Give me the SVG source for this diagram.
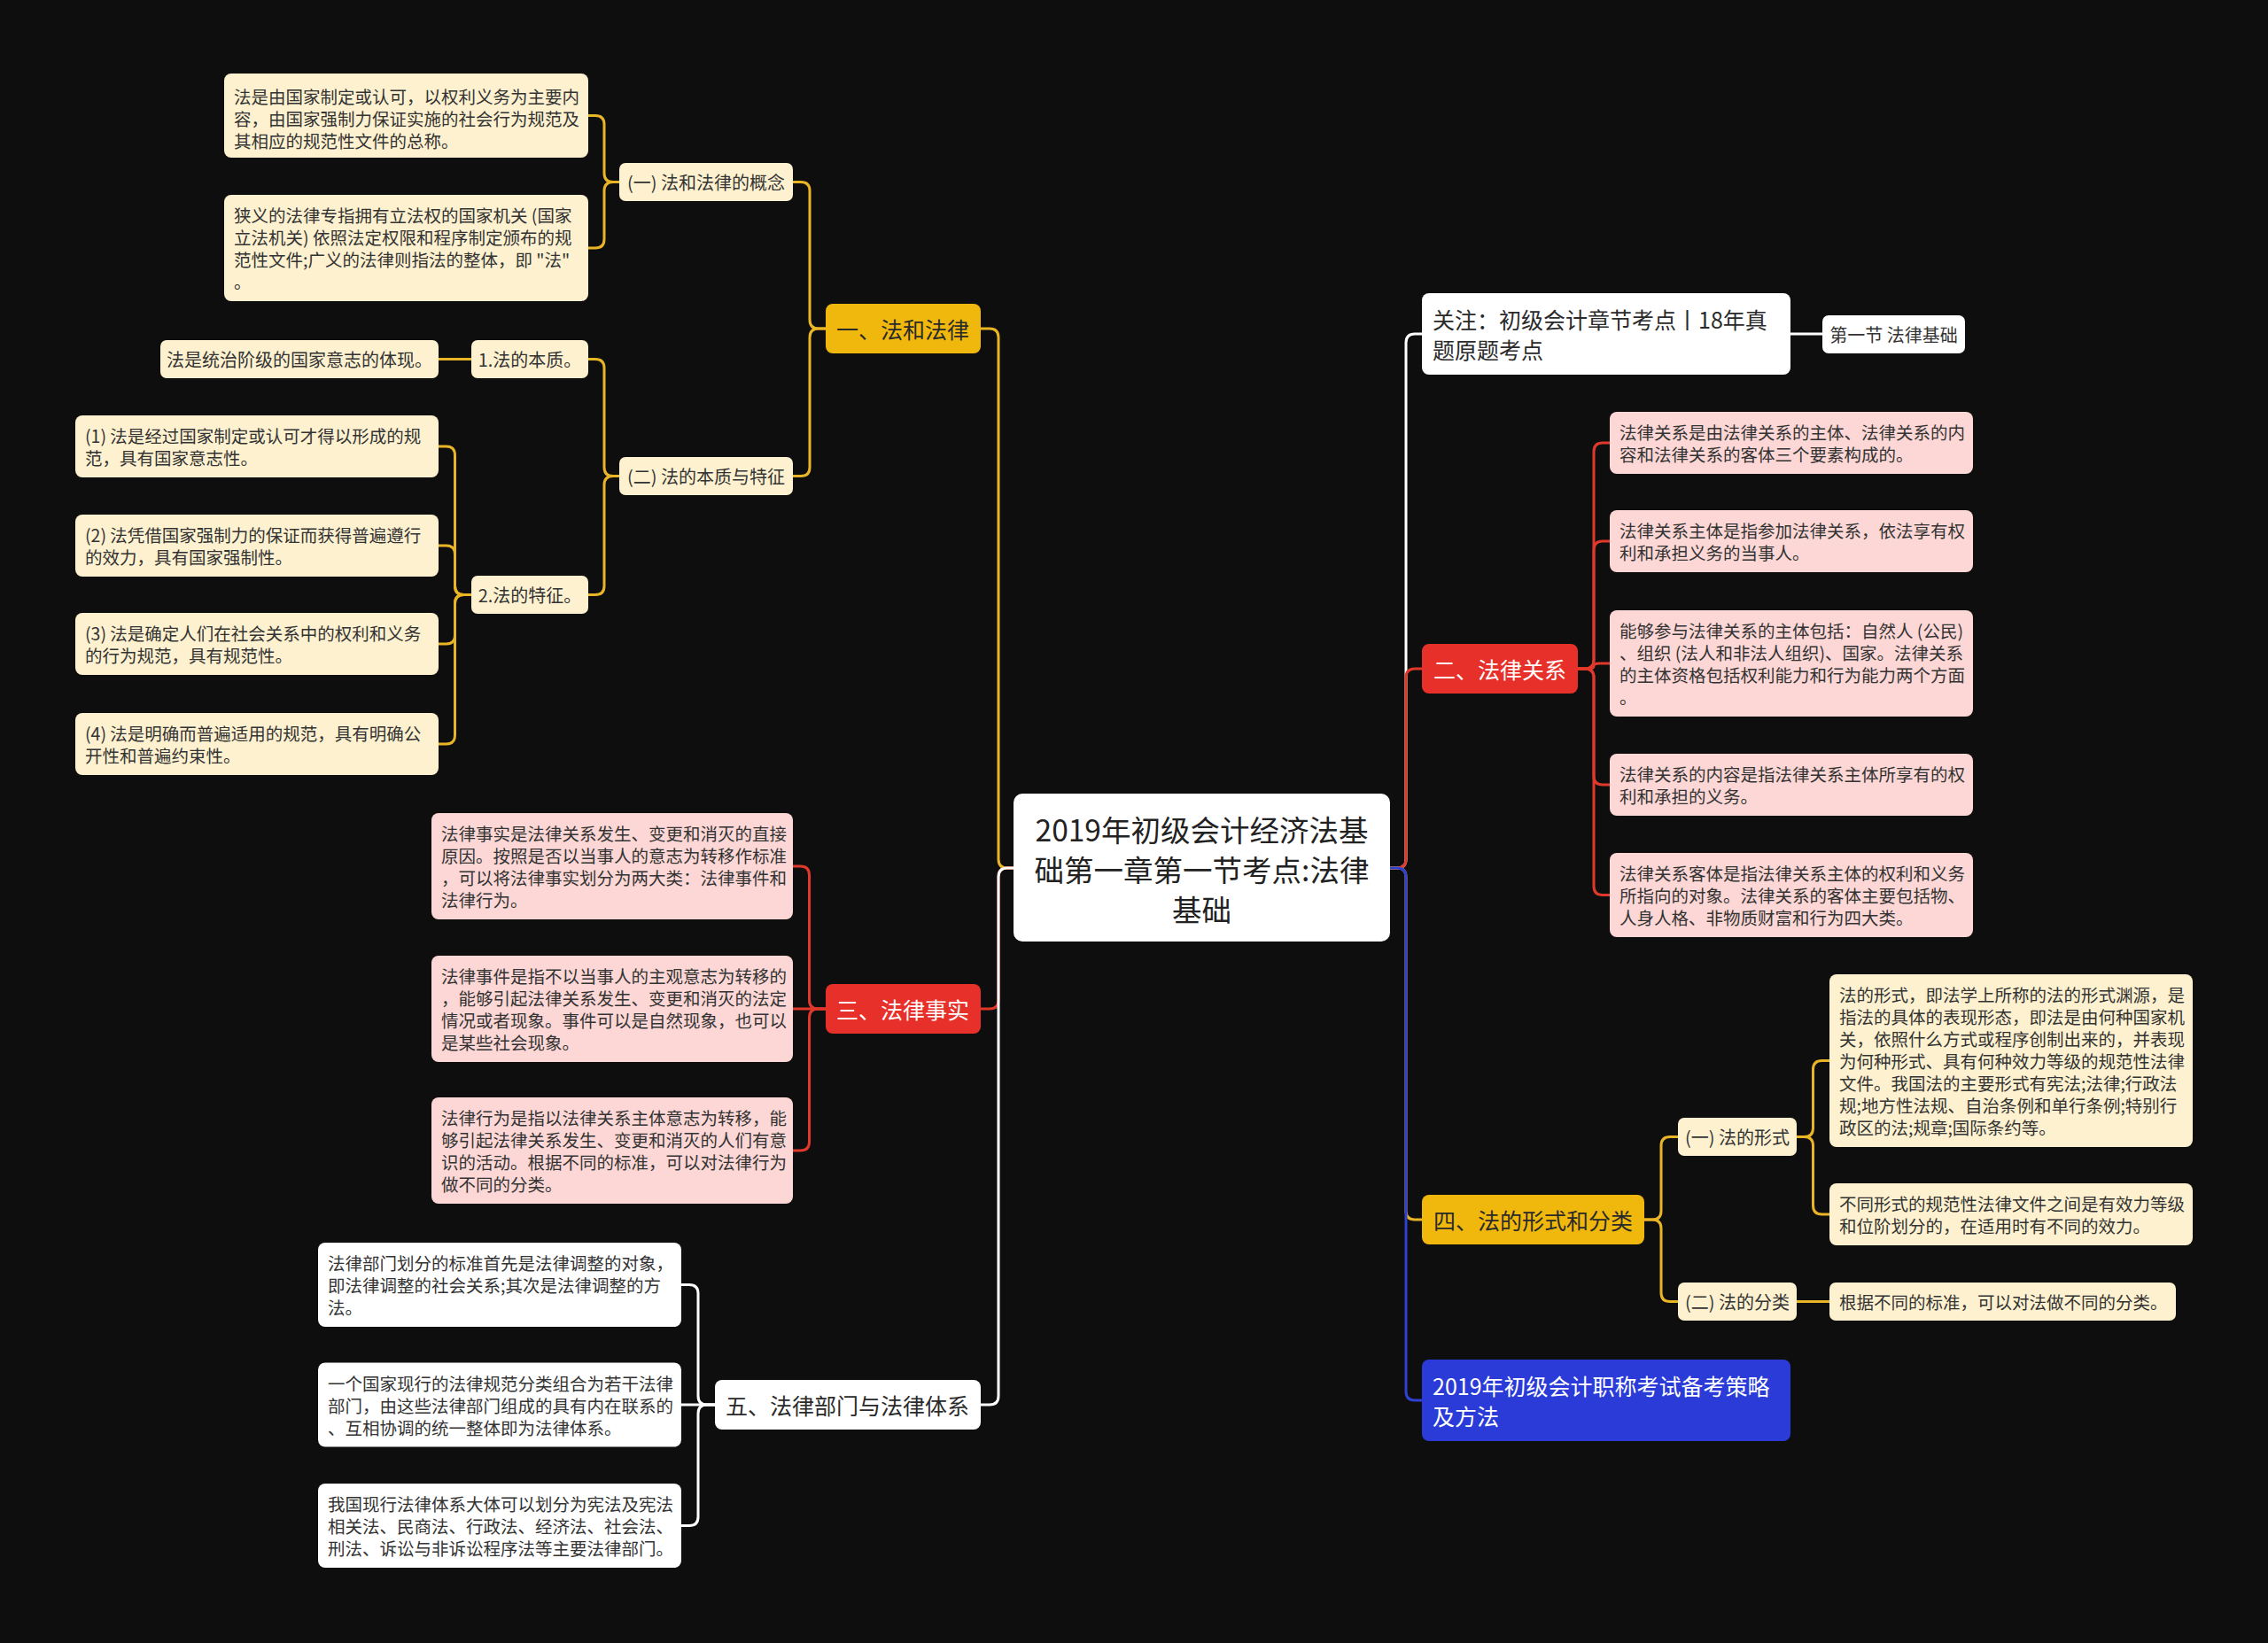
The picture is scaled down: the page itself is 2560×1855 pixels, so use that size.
<svg xmlns="http://www.w3.org/2000/svg" width="2560" height="1855" viewBox="0 0 2560 1855">
<style>
text{font-family:"Noto Sans CJK SC","Noto Sans",sans-serif;dominant-baseline:central}
.lf{font-size:19.5px;fill:#333}
.l2{font-size:20px;fill:#333;text-anchor:middle}
.l1{font-size:25px}
.ct{font-size:33.5px;fill:#222;text-anchor:middle}
.yl{fill:#FDF1CF}
.rl{fill:#FCD7D5}
.wl{fill:#FFFFFF}
.y1{fill:#F0B80D}
.r1{fill:#E8302A}
.b1{fill:#2A3BD8}
.dk{fill:#2a2a2a}
.wt{fill:#ffffff}
.cn path{fill:none;stroke-width:3;stroke-linecap:round}
.sy{stroke:#E9B425}
.sr{stroke:#E0392B}
.sw{stroke:#FFFFFF}
.sb{stroke:#3040D0}
</style>
<rect width="2560" height="1855" fill="#0e0e0e"/>
<g id="connectors" class="cn">
  <path class="sy" d="M1144 980 H1137 Q1127 980 1127 970 V381 Q1127 371 1117 371 H1107"/>
  <path class="sr" d="M1144 980 H1137 Q1127 980 1127 990 V1129 Q1127 1139 1117 1139 H1107"/>
  <path class="sw" d="M1144 980 H1137 Q1127 980 1127 990 V1576 Q1127 1586 1117 1586 H1107"/>
  <path class="sw" d="M1569 980 H1577 Q1587 980 1587 970 V387 Q1587 377 1597 377 H1605"/>
  <path class="sr" d="M1569 980 H1577 Q1587 980 1587 970 V765 Q1587 755 1597 755 H1605"/>
  <path class="sy" d="M1569 980 H1577 Q1587 980 1587 990 V1367 Q1587 1377 1597 1377 H1605"/>
  <path class="sb" d="M1569 980 H1577 Q1587 980 1587 990 V1571 Q1587 1581 1597 1581 H1605"/>
  <path class="sy" d="M932 371 H924 Q914 371 914 361 V215.5 Q914 205.5 904 205.5 H895"/>
  <path class="sy" d="M932 371 H924 Q914 371 914 381 V527.5 Q914 537.5 904 537.5 H895"/>
  <path class="sy" d="M699 205.5 H692 Q682 205.5 682 195.5 V140.5 Q682 130.5 672 130.5 H664"/>
  <path class="sy" d="M699 205.5 H692 Q682 205.5 682 215.5 V270 Q682 280 672 280 H664"/>
  <path class="sy" d="M699 537.5 H692 Q682 537.5 682 527.5 V415.5 Q682 405.5 672 405.5 H664"/>
  <path class="sy" d="M699 537.5 H692 Q682 537.5 682 547.5 V661.5 Q682 671.5 672 671.5 H664"/>
  <path class="sy" d="M532 405.5 H495"/>
  <path class="sy" d="M532 671.5 H523.5 Q513.5 671.5 513.5 661.5 V514 Q513.5 504 503.5 504 H495"/>
  <path class="sy" d="M532 671.5 H523.5 Q513.5 671.5 513.5 661.5 V626 Q513.5 616 503.5 616 H495"/>
  <path class="sy" d="M532 671.5 H523.5 Q513.5 671.5 513.5 681.5 V717 Q513.5 727 503.5 727 H495"/>
  <path class="sy" d="M532 671.5 H523.5 Q513.5 671.5 513.5 681.5 V830 Q513.5 840 503.5 840 H495"/>
  <path class="sr" d="M932 1139 H923.5 Q913.5 1139 913.5 1129 V988 Q913.5 978 903.5 978 H895"/>
  <path class="sr" d="M932 1139 H895"/>
  <path class="sr" d="M932 1139 H923.5 Q913.5 1139 913.5 1149 V1289 Q913.5 1299 903.5 1299 H895"/>
  <path class="sw" d="M807 1586 H798 Q788 1586 788 1576 V1460.5 Q788 1450.5 778 1450.5 H769"/>
  <path class="sw" d="M807 1586 H769"/>
  <path class="sw" d="M807 1586 H798 Q788 1586 788 1596 V1712.5 Q788 1722.5 778 1722.5 H769"/>
  <path class="sw" d="M2021 377 H2057"/>
  <path class="sr" d="M1781 755 H1789 Q1799 755 1799 745 V510 Q1799 500 1809 500 H1817"/>
  <path class="sr" d="M1781 755 H1789 Q1799 755 1799 745 V621 Q1799 611 1809 611 H1817"/>
  <path class="sr" d="M1781 755 H1793 Q1799 755 1799 752 Q1799 749 1805 749 H1817"/>
  <path class="sr" d="M1781 755 H1789 Q1799 755 1799 765 V876 Q1799 886 1809 886 H1817"/>
  <path class="sr" d="M1781 755 H1789 Q1799 755 1799 765 V1000.5 Q1799 1010.5 1809 1010.5 H1817"/>
  <path class="sy" d="M1856 1377 H1865 Q1875 1377 1875 1367 V1293.5 Q1875 1283.5 1885 1283.5 H1894"/>
  <path class="sy" d="M1856 1377 H1865 Q1875 1377 1875 1387 V1459.5 Q1875 1469.5 1885 1469.5 H1894"/>
  <path class="sy" d="M2028 1283.5 H2036.5 Q2046.5 1283.5 2046.5 1273.5 V1207.5 Q2046.5 1197.5 2056.5 1197.5 H2065"/>
  <path class="sy" d="M2028 1283.5 H2036.5 Q2046.5 1283.5 2046.5 1293.5 V1361 Q2046.5 1371 2056.5 1371 H2065"/>
  <path class="sy" d="M2028 1469.5 H2065"/>
</g>

<g id="center">
  <rect x="1144" y="896" width="425" height="167" rx="10" class="wl"/>
  <text class="ct" x="1356.5" y="935"><tspan x="1356.5" y="935">2019年初级会计经济法基</tspan><tspan x="1356.5" y="980">础第一章第一节考点:法律</tspan><tspan x="1356.5" y="1025">基础</tspan></text>
</g>

<!-- Left: 一 -->
<g id="n-yi">
  <rect x="932" y="343" width="175" height="56" rx="8" class="y1"/>
  <text class="l1 dk" x="944" y="371">一、法和法律</text>
</g>
<g id="n-yi-1">
  <rect x="699" y="184" width="196" height="43" rx="7" class="yl"/>
  <text class="l2" x="797" y="205.5">(一) 法和法律的概念</text>
</g>
<g id="n-yi-1-a">
  <rect x="253" y="83" width="411" height="95" rx="8" class="yl"/>
  <text class="lf" x="264" y="108">法是由国家制定或认可，以权利义务为主要内</text>
  <text class="lf" x="264" y="133">容，由国家强制力保证实施的社会行为规范及</text>
  <text class="lf" x="264" y="158">其相应的规范性文件的总称。</text>
</g>
<g id="n-yi-1-b">
  <rect x="253" y="220" width="411" height="120" rx="8" class="yl"/>
  <text class="lf" x="264" y="242.5">狭义的法律专指拥有立法权的国家机关 (国家</text>
  <text class="lf" x="264" y="267.5">立法机关) 依照法定权限和程序制定颁布的规</text>
  <text class="lf" x="264" y="292.5">范性文件;广义的法律则指法的整体，即 "法"</text>
  <text class="lf" x="264" y="317.5">。</text>
</g>
<g id="n-yi-2">
  <rect x="699" y="516" width="196" height="43" rx="7" class="yl"/>
  <text class="l2" x="797" y="537.5">(二) 法的本质与特征</text>
</g>
<g id="n-benzhi">
  <rect x="532" y="384" width="132" height="43" rx="7" class="yl"/>
  <text class="l2" x="598" y="405.5">1.法的本质。</text>
</g>
<g id="n-benzhi-a">
  <rect x="181" y="384" width="314" height="43" rx="7" class="yl"/>
  <text class="l2" x="338" y="405.5">法是统治阶级的国家意志的体现。</text>
</g>
<g id="n-tezheng">
  <rect x="532" y="650" width="132" height="43" rx="7" class="yl"/>
  <text class="l2" x="598" y="671.5">2.法的特征。</text>
</g>
<g id="n-tz-1">
  <rect x="85" y="469" width="410" height="70" rx="8" class="yl"/>
  <text class="lf" x="96" y="491.5">(1) 法是经过国家制定或认可才得以形成的规</text>
  <text class="lf" x="96" y="516.5">范，具有国家意志性。</text>
</g>
<g id="n-tz-2">
  <rect x="85" y="581" width="410" height="70" rx="8" class="yl"/>
  <text class="lf" x="96" y="603.5">(2) 法凭借国家强制力的保证而获得普遍遵行</text>
  <text class="lf" x="96" y="628.5">的效力，具有国家强制性。</text>
</g>
<g id="n-tz-3">
  <rect x="85" y="692" width="410" height="70" rx="8" class="yl"/>
  <text class="lf" x="96" y="714.5">(3) 法是确定人们在社会关系中的权利和义务</text>
  <text class="lf" x="96" y="739.5">的行为规范，具有规范性。</text>
</g>
<g id="n-tz-4">
  <rect x="85" y="805" width="410" height="70" rx="8" class="yl"/>
  <text class="lf" x="96" y="827.5">(4) 法是明确而普遍适用的规范，具有明确公</text>
  <text class="lf" x="96" y="852.5">开性和普遍约束性。</text>
</g>

<!-- Left: 三 -->
<g id="n-san">
  <rect x="932" y="1111" width="175" height="56" rx="8" class="r1"/>
  <text class="l1 wt" x="944" y="1139">三、法律事实</text>
</g>
<g id="n-san-a">
  <rect x="487" y="918" width="408" height="120" rx="8" class="rl"/>
  <text class="lf" x="498" y="940.5">法律事实是法律关系发生、变更和消灭的直接</text>
  <text class="lf" x="498" y="965.5">原因。按照是否以当事人的意志为转移作标准</text>
  <text class="lf" x="498" y="990.5">，可以将法律事实划分为两大类：法律事件和</text>
  <text class="lf" x="498" y="1015.5">法律行为。</text>
</g>
<g id="n-san-b">
  <rect x="487" y="1079" width="408" height="120" rx="8" class="rl"/>
  <text class="lf" x="498" y="1101.5">法律事件是指不以当事人的主观意志为转移的</text>
  <text class="lf" x="498" y="1126.5">，能够引起法律关系发生、变更和消灭的法定</text>
  <text class="lf" x="498" y="1151.5">情况或者现象。事件可以是自然现象，也可以</text>
  <text class="lf" x="498" y="1176.5">是某些社会现象。</text>
</g>
<g id="n-san-c">
  <rect x="487" y="1239" width="408" height="120" rx="8" class="rl"/>
  <text class="lf" x="498" y="1261.5">法律行为是指以法律关系主体意志为转移，能</text>
  <text class="lf" x="498" y="1286.5">够引起法律关系发生、变更和消灭的人们有意</text>
  <text class="lf" x="498" y="1311.5">识的活动。根据不同的标准，可以对法律行为</text>
  <text class="lf" x="498" y="1336.5">做不同的分类。</text>
</g>

<!-- Left: 五 -->
<g id="n-wu">
  <rect x="807" y="1558" width="300" height="56" rx="8" class="wl"/>
  <text class="l1 dk" x="819" y="1586">五、法律部门与法律体系</text>
</g>
<g id="n-wu-a">
  <rect x="359" y="1403" width="410" height="95" rx="8" class="wl"/>
  <text class="lf" x="370" y="1425.5">法律部门划分的标准首先是法律调整的对象，</text>
  <text class="lf" x="370" y="1450.5">即法律调整的社会关系;其次是法律调整的方</text>
  <text class="lf" x="370" y="1475.5">法。</text>
</g>
<g id="n-wu-b">
  <rect x="359" y="1538.5" width="410" height="95" rx="8" class="wl"/>
  <text class="lf" x="370" y="1561">一个国家现行的法律规范分类组合为若干法律</text>
  <text class="lf" x="370" y="1586">部门，由这些法律部门组成的具有内在联系的</text>
  <text class="lf" x="370" y="1611">、互相协调的统一整体即为法律体系。</text>
</g>
<g id="n-wu-c">
  <rect x="359" y="1675" width="410" height="95" rx="8" class="wl"/>
  <text class="lf" x="370" y="1697.5">我国现行法律体系大体可以划分为宪法及宪法</text>
  <text class="lf" x="370" y="1722.5">相关法、民商法、行政法、经济法、社会法、</text>
  <text class="lf" x="370" y="1747.5">刑法、诉讼与非诉讼程序法等主要法律部门。</text>
</g>

<!-- Right: 关注 -->
<g id="n-guanzhu">
  <rect x="1605" y="331" width="416" height="92" rx="8" class="wl"/>
  <text class="l1 dk" x="1617" y="360">关注：初级会计章节考点丨18年真</text>
  <text class="l1 dk" x="1617" y="394">题原题考点</text>
</g>
<g id="n-diyijie">
  <rect x="2057" y="356" width="161" height="43" rx="7" class="wl"/>
  <text class="l2" x="2137.5" y="377.5">第一节 法律基础</text>
</g>

<!-- Right: 二 -->
<g id="n-er">
  <rect x="1605" y="727" width="176" height="56" rx="8" class="r1"/>
  <text class="l1 wt" x="1618" y="755">二、法律关系</text>
</g>
<g id="n-er-1">
  <rect x="1817" y="465" width="410" height="70" rx="8" class="rl"/>
  <text class="lf" x="1828" y="487.5">法律关系是由法律关系的主体、法律关系的内</text>
  <text class="lf" x="1828" y="512.5">容和法律关系的客体三个要素构成的。</text>
</g>
<g id="n-er-2">
  <rect x="1817" y="576" width="410" height="70" rx="8" class="rl"/>
  <text class="lf" x="1828" y="598.5">法律关系主体是指参加法律关系，依法享有权</text>
  <text class="lf" x="1828" y="623.5">利和承担义务的当事人。</text>
</g>
<g id="n-er-3">
  <rect x="1817" y="689" width="410" height="120" rx="8" class="rl"/>
  <text class="lf" x="1828" y="711.5">能够参与法律关系的主体包括：自然人 (公民)</text>
  <text class="lf" x="1828" y="736.5">、组织 (法人和非法人组织)、国家。法律关系</text>
  <text class="lf" x="1828" y="761.5">的主体资格包括权利能力和行为能力两个方面</text>
  <text class="lf" x="1828" y="786.5">。</text>
</g>
<g id="n-er-4">
  <rect x="1817" y="851" width="410" height="70" rx="8" class="rl"/>
  <text class="lf" x="1828" y="873.5">法律关系的内容是指法律关系主体所享有的权</text>
  <text class="lf" x="1828" y="898.5">利和承担的义务。</text>
</g>
<g id="n-er-5">
  <rect x="1817" y="963" width="410" height="95" rx="8" class="rl"/>
  <text class="lf" x="1828" y="985.5">法律关系客体是指法律关系主体的权利和义务</text>
  <text class="lf" x="1828" y="1010.5">所指向的对象。法律关系的客体主要包括物、</text>
  <text class="lf" x="1828" y="1035.5">人身人格、非物质财富和行为四大类。</text>
</g>

<!-- Right: 四 -->
<g id="n-si">
  <rect x="1605" y="1349" width="251" height="56" rx="8" class="y1"/>
  <text class="l1 dk" x="1618" y="1377">四、法的形式和分类</text>
</g>
<g id="n-si-1">
  <rect x="1894" y="1262" width="134" height="43" rx="7" class="yl"/>
  <text class="l2" x="1961" y="1283.5">(一) 法的形式</text>
</g>
<g id="n-si-1-a">
  <rect x="2065" y="1100" width="410" height="195" rx="8" class="yl"/>
  <text class="lf" x="2076" y="1122.5">法的形式，即法学上所称的法的形式渊源，是</text>
  <text class="lf" x="2076" y="1147.5">指法的具体的表现形态，即法是由何种国家机</text>
  <text class="lf" x="2076" y="1172.5">关，依照什么方式或程序创制出来的，并表现</text>
  <text class="lf" x="2076" y="1197.5">为何种形式、具有何种效力等级的规范性法律</text>
  <text class="lf" x="2076" y="1222.5">文件。我国法的主要形式有宪法;法律;行政法</text>
  <text class="lf" x="2076" y="1247.5">规;地方性法规、自治条例和单行条例;特别行</text>
  <text class="lf" x="2076" y="1272.5">政区的法;规章;国际条约等。</text>
</g>
<g id="n-si-1-b">
  <rect x="2065" y="1336" width="410" height="70" rx="8" class="yl"/>
  <text class="lf" x="2076" y="1358.5">不同形式的规范性法律文件之间是有效力等级</text>
  <text class="lf" x="2076" y="1383.5">和位阶划分的，在适用时有不同的效力。</text>
</g>
<g id="n-si-2">
  <rect x="1894" y="1448" width="134" height="43" rx="7" class="yl"/>
  <text class="l2" x="1961" y="1469.5">(二) 法的分类</text>
</g>
<g id="n-si-2-a">
  <rect x="2065" y="1448" width="391" height="43" rx="7" class="yl"/>
  <text class="lf" x="2076" y="1469.5">根据不同的标准，可以对法做不同的分类。</text>
</g>

<!-- Right: blue -->
<g id="n-celue">
  <rect x="1605" y="1535" width="416" height="92" rx="8" class="b1"/>
  <text class="l1 wt" x="1617" y="1564">2019年初级会计职称考试备考策略</text>
  <text class="l1 wt" x="1617" y="1598">及方法</text>
</g>
</svg>
